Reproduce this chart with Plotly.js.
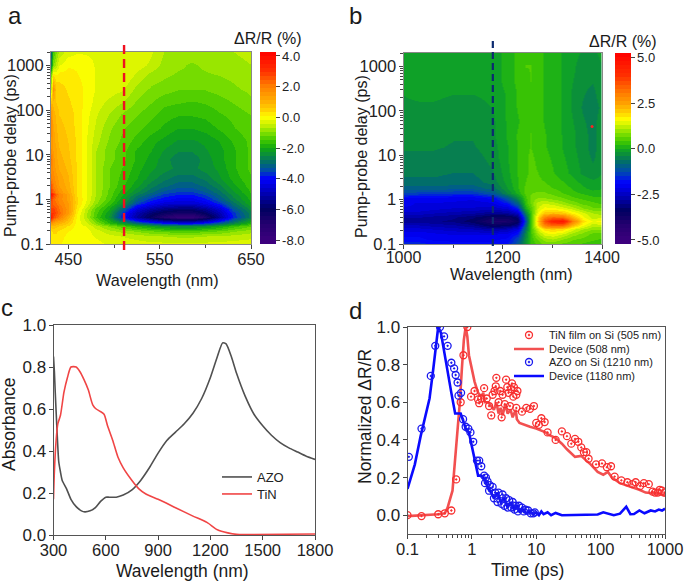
<!DOCTYPE html>
<html><head><meta charset="utf-8">
<script src="https://cdn.plot.ly/plotly-3.0.1.min.js"></script>
<style>html,body{margin:0;padding:0;background:#fff}#c{width:685px;height:581px}</style></head>
<body><div id="c"></div>
<script>
// ---------- panel a ----------
const wlA=[431,433,436,440,450,460,470,480,495,510,525,540,555,570,585,600,615,630,650];
const delayA=[0.1,0.15,0.2,0.25,0.3,0.4,0.5,0.6,0.7,0.85,1,1.3,1.5,2,3,5,8,12,20,40,80,150,300,600,1000,2000];
const zA=[
[.1,.3,.2,.1,0,0,-.05,-.1,-.2,-.25,-.3,-.35,-.35,-.35,-.35,-.35,-.35,-.3,-.3],
[.2,.3,.3,.2,0,-.05,-.1,-.2,-.35,-.45,-.55,-.65,-.7,-.75,-.75,-.7,-.65,-.6,-.5],
[.3,.4,.4,.3,.1,-.05,-.1,-.3,-.6,-.8,-1,-1.2,-1.3,-1.4,-1.4,-1.3,-1.2,-1,-.8],
[.8,.8,.7,.6,.3,-.05,-.2,-.6,-1,-1.4,-1.8,-2.1,-2.4,-2.5,-2.5,-2.3,-2,-1.6,-1.2],
[1.5,1.3,1.1,1,.6,-.05,-.4,-1,-1.7,-2.3,-3,-3.5,-3.9,-4.1,-4.1,-3.8,-3.2,-2.6,-1.8],
[3.6,2.8,2.3,2,1,0,-.7,-1.5,-2.3,-3.9,-5.2,-6.2,-7,-7.6,-7.6,-6.8,-5.3,-3.8,-2.6],
[3,3,2.6,2.3,1.4,.1,-.7,-1.4,-2.2,-3.7,-5,-5.8,-6.3,-6.6,-6.6,-6,-5,-3.7,-2.6],
[2.8,2.8,2.5,2.2,1.5,.2,-.6,-1.3,-2,-3.2,-4.5,-5.2,-5.6,-5.8,-5.8,-5.4,-4.6,-3.4,-2.4],
[2.5,2.5,2.4,2.1,1.4,.3,-.4,-1.1,-1.8,-2.8,-4,-4.6,-5,-5.2,-5.2,-4.8,-4.1,-3.1,-2.2],
[2.5,2.4,2.2,1.9,1.4,.4,-.3,-.9,-1.6,-2.4,-3.5,-4.1,-4.5,-4.6,-4.6,-4.3,-3.7,-2.9,-2],
[2.8,2.4,2,1.8,1.3,.4,-.2,-.8,-1.4,-2.2,-3.1,-3.7,-4,-4.2,-4.2,-3.9,-3.3,-2.6,-1.9],
[3.8,3,2.4,1.9,1.3,.3,-.2,-.7,-1.3,-2,-2.7,-3.2,-3.6,-3.8,-3.8,-3.5,-3,-2.4,-1.8],
[2.8,2.4,1.9,1.6,1.1,.3,-.2,-.7,-1.3,-1.9,-2.5,-3,-3.4,-3.6,-3.6,-3.3,-2.9,-2.3,-1.7],
[2.6,2,1.7,1.4,1,.3,-.2,-.7,-1.2,-1.7,-2.2,-2.7,-3,-3.2,-3.2,-3,-2.6,-2.1,-1.6],
[2,1.8,1.5,1.3,.9,.3,-.2,-.7,-1.2,-1.6,-2,-2.4,-2.7,-2.9,-2.9,-2.7,-2.3,-1.9,-1.5],
[1.8,1.6,1.3,1.1,.8,.3,-.2,-.7,-1.2,-1.5,-1.9,-2.2,-2.4,-2.6,-2.6,-2.4,-2.2,-1.8,-1.4],
[2.2,1.5,1.2,1,.7,.3,-.2,-.7,-1.1,-1.4,-1.8,-2.1,-2.4,-2.7,-2.7,-2.4,-2.1,-1.8,-1.4],
[1.7,1.4,1.2,.9,.65,.3,-.2,-.7,-1.1,-1.4,-1.8,-2,-2.3,-2.5,-2.5,-2.3,-2.1,-1.8,-1.4],
[1.5,1.3,1,.8,.6,.3,-.2,-.6,-1,-1.3,-1.6,-1.9,-2.1,-2.3,-2.3,-2.2,-2,-1.7,-1.4],
[1.9,1.2,.9,.7,.55,.25,-.15,-.5,-.9,-1.2,-1.4,-1.6,-1.8,-2,-2,-1.9,-1.7,-1.5,-1.3],
[1.6,1,.8,.6,.5,.25,-.1,-.4,-.7,-1,-1.2,-1.4,-1.6,-1.7,-1.7,-1.65,-1.5,-1.4,-1.2],
[.8,.8,.6,.5,.4,.2,0,-.3,-.5,-.7,-1,-1.2,-1.4,-1.45,-1.5,-1.45,-1.35,-1.2,-1],
[-.5,1.5,.6,.5,.3,.2,0,-.2,-.3,-.4,-.8,-1,-1.1,-1.2,-1.2,-1.2,-1.1,-1,-.9],
[-1,.3,.1,.2,.2,.1,0,-.2,-.2,-.2,-.5,-.8,-.9,-1,-1,-1,-.95,-.9,-.8],
[-2.5,-1,-.6,-.2,.05,.05,-.1,-.2,-.2,-.2,-.3,-.5,-.8,-.9,-1,-.9,-.8,-.8,-.7],
[-3,-1.5,-1,-.6,-.3,-.2,-.2,-.2,-.2,-.2,-.2,-.4,-.7,-.8,-.8,-.8,-.7,-.7,-.6]
];
const cbValsA=[-8.26,-7,-6,-5,-4,-3.5,-3,-2.5,-2,-1.5,-1,-.5,0,.5,1,2,3,4.26];
const cbColsA=['#400080','#250070','#000060','#0000b0','#0000ff','#004ab0','#006a70','#0a8a40','#10a810','#40c800','#80e000','#c8f000','#ffff00','#ffd000','#ffb000','#ff8000','#ff3000','#ff0000'];
const cbTicksA=[-8,-6,-4,-2,0,2,4];
const cbTextA=['-8.0','-6.0','-4.0','-2.0','0.0','2.0','4.0'];
// ---------- panel b ----------
const wlB=[1000,1030,1060,1100,1140,1180,1210,1230,1245,1255,1270,1285,1300,1320,1340,1360,1380,1400];
const delayB=[.1,.13,.17,.22,.27,.33,.4,.5,.65,.85,1.1,1.4,1.8,2.5,4,8,15,30,60,120,250,500,1000,2000];
const zB=[
[-1.5,-1.6,-1.8,-1.9,-1.9,-1.9,-1.7,-1.1,-.2,.3,.5,.7,.7,.6,.5,.4,.3,.3],
[-1.9,-1.9,-2,-2,-2,-2,-1.9,-1.3,-.3,.3,.7,1,1.1,.9,.7,.6,.5,.4],
[-2,-2,-2.1,-2.2,-2.2,-2.2,-2.1,-1.7,-.4,.35,1,1.4,1.5,1.3,1,.8,.6,.6],
[-2.3,-2.3,-2.4,-2.5,-2.6,-2.8,-2.6,-2.2,-.7,.4,1.3,1.9,2,1.9,1.4,1.1,.9,.9],
[-2.6,-2.6,-2.7,-2.8,-3,-3.5,-3.4,-3,-1,.4,1.8,3,3.4,3.3,2.3,1.6,1.2,1.3],
[-2.9,-2.9,-3,-3.1,-3.4,-4,-3.9,-3.5,-1.3,.4,2,3.6,4.4,4.7,3,1.9,1.5,1.6],
[-2.8,-2.8,-2.9,-3,-3.2,-3.6,-3.6,-3.2,-1,.4,1.8,3,3.3,3.2,2.3,1.6,1.2,1.3],
[-2.5,-2.5,-2.6,-2.7,-2.8,-3,-2.9,-2.5,-.5,.4,1.5,2.1,2.2,2.1,1.7,1.4,1.1,1],
[-2.2,-2.2,-2.3,-2.4,-2.4,-2.5,-2.3,-1.6,.1,.5,1.3,1.6,1.6,1.4,1.2,.9,.7,.7],
[-2.1,-2.2,-2.2,-2.2,-2.3,-2.2,-1.7,-.9,.3,.7,1.2,1.3,1.2,1,.8,.6,.5,.4],
[-2,-2,-2,-2.1,-2.1,-1.9,-1.1,-.4,.4,.7,.9,.9,.8,.7,.5,.4,.3,.3],
[-1.3,-1.4,-1.4,-1.5,-1.5,-1.1,-.4,.1,.5,.65,.7,.7,.6,.45,.3,.2,.1,.1],
[-.95,-.95,-.95,-1,-1,-.75,-.2,.2,.5,.6,.6,.55,.45,.35,.2,.05,-.05,0],
[-.7,-.7,-.7,-.75,-.75,-.55,-.1,.2,.45,.55,.5,.45,.35,.25,.1,-.05,-.15,-.1],
[-.6,-.6,-.6,-.65,-.65,-.45,-.05,.25,.4,.5,.45,.35,.25,.1,-.05,-.25,-.35,-.2],
[-.5,-.5,-.5,-.55,-.55,-.35,0,.25,.4,.5,.4,.3,.2,.05,-.1,-.3,-.45,-.3],
[-.4,-.4,-.4,-.45,-.45,-.3,0,.25,.4,.45,.35,.25,.15,0,-.15,-.35,-.5,-.3],
[-.35,-.35,-.35,-.4,-.4,-.25,.05,.25,.4,.45,.35,.25,.1,0,-.15,-.35,-.5,-.3],
[-.3,-.3,-.3,-.35,-.35,-.25,.05,.2,.35,.4,.35,.2,.1,0,-.2,-.4,-.5,-.3],
[-.25,-.25,-.25,-.3,-.3,-.2,.05,.25,.35,.35,.3,.2,.1,0,-.25,-.45,-.55,-.35],
[-.2,-.15,-.15,-.2,-.2,-.15,.05,.25,.4,.4,.3,.2,.1,0,-.25,-.4,-.5,-.25],
[-.15,-.1,-.1,-.15,-.15,-.1,.1,.3,.4,.45,.3,.2,.1,0,-.2,-.35,-.4,-.2],
[-.1,-.05,-.05,-.1,-.1,-.1,.1,.3,.45,.45,.35,.2,.1,0,-.15,-.35,-.4,-.2],
[-.1,-.1,-.1,-.1,-.1,-.1,.1,.3,.4,.4,.3,.2,.1,0,-.1,-.25,-.3,-.1]
];
const cbValsB=[-5.22,-4.2,-3.4,-2.7,-1.9,-1.3,-.8,-.4,0,.4,.85,1.6,2,2.5,3,4,5.24];
const cbColsB=['#400080','#250070','#000060','#0000b0','#0000ff','#004ab0','#006a70','#0a8a40','#10a820','#40c800','#80e000','#ffff00','#ffd000','#ffa000','#ff8000','#ff3000','#ff0000'];
const cbTicksB=[-5,-2.5,0,2.5,5];
const cbTextB=['-5.0','-2.5','0.0','2.5','5.0'];
const spotX=[1380],spotY=[44];
// ---------- panel c ----------
const azoX=[300,305,310,320,330,340,350,375,400,430,460,480,510,540,570,600,620,660,700,750,800,850,900,950,1000,1050,1100,1150,1200,1240,1270,1290,1320,1350,1400,1450,1500,1550,1600,1650,1700,1750,1800];
const azoY=[.85,.78,.68,.5,.35,.3,.26,.22,.17,.135,.115,.11,.115,.13,.16,.18,.18,.18,.19,.215,.26,.32,.39,.45,.49,.53,.58,.65,.75,.85,.915,.91,.85,.77,.66,.575,.52,.475,.44,.415,.395,.375,.36];
const tinX=[300,305,315,325,340,360,380,400,430,450,475,500,525,545,565,590,610,640,670,700,750,790,830,900,1000,1100,1180,1240,1300,1350,1400,1800];
const tinY=[.17,.3,.45,.53,.57,.68,.75,.8,.8,.78,.74,.69,.62,.6,.59,.575,.52,.45,.37,.32,.26,.22,.195,.17,.13,.09,.06,.025,.01,.003,.002,.005];
// ---------- panel d ----------
const blueLineX=[.1,.13,.16,.2,.22,.25,.28,.3,.33,.37,.42,.48,.55,.6,.67,.72,.8,.9,1,1.1,1.25,1.4,1.5,1.6,1.8,2,2.2,2.5,2.8,3.2,3.6,4,4.5,5,5.5,6,7,8,9,10,11,12,13,15,17,20,25,40,60,90,110,130,160,200,250,290,330,400,480,600,700,800,900,1000];
const blueLineY=[.14,.27,.42,.56,.62,.77,.9,1,.97,.87,.75,.65,.54,.54,.54,.51,.46,.44,.36,.3,.21,.21,.2,.19,.14,.12,.09,.12,.07,.09,.04,.07,.03,.05,.02,.035,.01,.02,.005,.015,0,.02,.005,.015,0,.012,0,.002,.003,.004,.015,.01,0,.008,.045,.005,.006,.025,.01,.025,.02,.03,.025,.035];
const blueDotX=[.105,.165,.23,.27,.32,.37,.42,.48,.53,.56,.6,.62,.68,.73,.8,.88,.95,1.05,1.2,1.3,1.4,1.55,1.65,1.75,1.9,2.1,2.3,2.6,3,3.4,3.8,4.3,4.8,5.4,6,6.8,7.5,8.2,9,9.5,1.6,1.85,2.2,2.5,2.9,3.2,3.6,4.1,4.6,5.2,6.4];
const blueDotY=[.31,.46,.74,.9,1,.95,.9,.81,.78,.745,.705,.635,.65,.51,.47,.46,.44,.39,.29,.29,.26,.21,.2,.18,.16,.15,.12,.12,.11,.09,.08,.07,.05,.05,.04,.03,.025,.01,.01,.015,.17,.13,.09,.07,.06,.05,.04,.04,.03,.02,.02];
const redLineX=[.1,.2,.3,.38,.42,.5,.55,.6,.65,.7,.75,.8,.85,.9,1,1.1,1.25,1.4,1.5,1.6,1.8,2,2.2,2.4,2.6,2.8,3,3.3,3.6,4,4.3,4.8,5,5.5,6.5,8,10,12,14,15,17,20,25,30,40,50,60,70,90,110,130,150,200,300,400,500,700,1000];
const redLineY=[-.005,0,.005,.01,.04,.13,.3,.47,.6,.78,.93,1,.95,.85,.78,.71,.65,.63,.65,.6,.6,.58,.56,.6,.54,.57,.53,.59,.54,.56,.52,.56,.51,.49,.48,.47,.46,.45,.44,.43,.42,.41,.38,.35,.31,.315,.29,.27,.23,.215,.23,.2,.17,.15,.135,.12,.115,.105];
const redDotX=[.1,.165,.3,.38,.48,.57,.67,.74,.85,.97,1.1,1.25,1.3,1.4,1.55,1.7,1.85,2,2.1,2.25,2.35,2.4,2.6,2.75,2.9,3,3.25,3.4,3.55,3.7,3.9,4.1,4.2,4.4,4.5,4.9,5.1,4.9,6,7,8,9.2,10,11,12,13.5,15,20,25,30,35,40,45,50,55,60,65,85,105,125,145,165,210,260,310,350,410,470,560,640,700,770,830,900,980];
const redDotY=[0,-.005,.005,.01,.025,.19,.6,.85,1,.63,.66,.615,.595,.62,.675,.62,.58,.53,.64,.66,.685,.73,.6,.66,.52,.64,.59,.72,.68,.65,.58,.67,.7,.63,.68,.64,.66,.57,.55,.57,.565,.58,.49,.48,.515,.495,.44,.4,.445,.42,.38,.405,.39,.36,.335,.335,.3,.27,.275,.255,.26,.205,.185,.175,.165,.175,.155,.17,.165,.125,.12,.12,.135,.13,.12];

const FONT='"Liberation Sans",Arial,sans-serif', TXT='#222';
const W=685,H=581;
const dx=(a,b)=>[a/W,b/W], dy=(t,b)=>[1-b/H,1-t/H];
const hex=c=>[1,3,5].map(i=>parseInt(c.substr(i,2),16));
// stepped colour scale: the reference colour bar is drawn in discrete bands
const scale=(v,c,n)=>{const lo=v[0],hi=v[v.length-1],out=[];
 for(let k=0;k<n;k++){const val=lo+(hi-lo)*(k+.5)/n;let i=0;while(i<v.length-2&&val>v[i+1])i++;
  const t=(val-v[i])/(v[i+1]-v[i]),a=hex(c[i]),b=hex(c[i+1]),col='rgb('+a.map((p,j)=>Math.round(p+(b[j]-p)*t)).join(',')+')';
  out.push([k/n,col],[(k+1)/n,col]);}
 return out;};
const logMinor=(lo,hi)=>{const o=[];for(let e=lo;e<hi;e++)for(let m=2;m<10;m++)o.push(m*Math.pow(10,e));return o;};
const cbar=(x,top,bot,tv,tt)=>({x:x/W,xanchor:'left',xpad:0,y:1-bot/H,yanchor:'bottom',ypad:0,len:(bot-top)/H,lenmode:'fraction',thickness:16,thicknessmode:'pixels',outlinewidth:0,ticks:'outside',ticklen:4,tickwidth:1,tickcolor:'#444',tickmode:'array',tickvals:tv,ticktext:tt,tickfont:{family:FONT,size:13,color:TXT}});
const dots=(x,y,c,name,xa,ya,lg)=>({type:'scatter',mode:'markers',x,y,xaxis:xa,yaxis:ya,name,legend:lg,marker:{symbol:'circle-open-dot',size:7,color:c,line:{width:1.3,color:c}}});
const line=(x,y,c,w,name,xa,ya,lg,sh)=>({type:'scatter',mode:'lines',x,y,xaxis:xa,yaxis:ya,name,legend:lg,line:{color:c,width:w,shape:sh||'linear',smoothing:.6}});

const traces=[
 {type:'heatmap',x:wlA,y:delayA,z:zA,xaxis:'x',yaxis:'y',zsmooth:'best',zmin:cbValsA[0],zmax:cbValsA[cbValsA.length-1],colorscale:scale(cbValsA,cbColsA,48),colorbar:cbar(260,52,244,cbTicksA,cbTextA),showlegend:false},
 {type:'heatmap',x:wlB,y:delayB,z:zB,xaxis:'x2',yaxis:'y2',zsmooth:'best',zmin:cbValsB[0],zmax:cbValsB[cbValsB.length-1],colorscale:scale(cbValsB,cbColsB,48),colorbar:cbar(615,53,244,cbTicksB,cbTextB),showlegend:false},
 {type:'scatter',mode:'markers',x:spotX,y:spotY,xaxis:'x2',yaxis:'y2',marker:{color:'#ff2020',size:3},showlegend:false},
 line(azoX,azoY,'#505050',1.6,'AZO','x3','y3','legend','spline'),
 line(tinX,tinY,'#f04545',1.6,'TiN','x3','y3','legend2','spline'),
 line(redLineX,redLineY,'#f25050',2.6,'Device (508 nm)','x4','y4','legend4'),
 line(blueLineX,blueLineY,'#0a0aff',2.6,'Device (1180 nm)','x4','y4','legend6'),
 dots(redDotX,redDotY,'#f83030','TiN film on Si (505 nm)','x4','y4','legend3'),
 dots(blueDotX,blueDotY,'#1a1aee','AZO on Si (1210 nm)','x4','y4','legend5')
];
const axis=(o,fs,st)=>Object.assign({showgrid:false,zeroline:false,showline:true,mirror:true,ticks:'outside',ticklen:4,tickwidth:1,tickfont:{family:FONT,size:fs,color:TXT},ticklabelstandoff:st,automargin:false,tickcolor:'#444'},o);
const logTicks=[.1,1,10,100,1000], logText=['0.1','1','10','100','1000'];
const yFmt=['0.0','0.2','0.4','0.6','0.8','1.0'], yTicks=[0,.2,.4,.6,.8,1];
const delayAxis=(anchor,dom)=>axis({type:'log',domain:dom,anchor,range:[-1,Math.log10(2000)],linecolor:'#888',tickmode:'array',tickvals:logTicks,ticktext:logText,minor:{tickmode:'array',tickvals:logMinor(-1,4),ticks:'outside',ticklen:3,tickcolor:'#444'}},16.5,-1);
const leg=(x,y,fs)=>({x:x/W,y:1-y/H,xanchor:'left',yanchor:'middle',bgcolor:'rgba(0,0,0,0)',borderwidth:0,itemwidth:30,font:{family:FONT,size:fs,color:TXT},itemclick:false});
const note=(x,y,text,size,angle)=>({xref:'paper',yref:'paper',x:x/W,y:1-y/H,xanchor:'center',yanchor:'middle',showarrow:false,text,textangle:angle||0,font:{family:FONT,size,color:'#1a1a1a'}});
const layout={
 width:W,height:H,margin:{l:0,r:0,t:0,b:0,autoexpand:false},paper_bgcolor:'#fff',plot_bgcolor:'#fff',showlegend:true,
 xaxis:axis({domain:dx(51,251),anchor:'y',range:[431,650],linecolor:'#888',tickmode:'array',tickvals:[450,550,650],minor:{tickmode:'array',tickvals:[500,600],ticks:'outside',ticklen:3,tickcolor:'#444'}},16.5,-4),
 yaxis:delayAxis('x',dy(52,244)),
 xaxis2:axis({domain:dx(403.5,602),anchor:'y2',range:[1000,1400],linecolor:'#888',tickmode:'array',tickvals:[1000,1200,1400],minor:{tickmode:'array',tickvals:[1100,1300],ticks:'outside',ticklen:3,tickcolor:'#444'}},16,-5),
 yaxis2:delayAxis('x2',dy(53,244)),
 xaxis3:axis({domain:dx(53.5,315),anchor:'y3',range:[300,1800],linecolor:'#555',tickmode:'array',tickvals:[300,600,900,1200,1500,1800]},16.5,-4),
 yaxis3:axis({domain:dy(325,535),anchor:'x3',range:[0,1],linecolor:'#555',tickmode:'array',tickvals:yTicks,ticktext:yFmt},17,-1),
 xaxis4:axis({type:'log',domain:dx(407.5,665),anchor:'y4',range:[-1,3],linecolor:'#555',tickmode:'array',tickvals:logTicks,ticktext:logText,minor:{tickmode:'array',tickvals:logMinor(-1,3),ticks:'outside',ticklen:3,tickcolor:'#444'}},16.5,-4),
 yaxis4:axis({domain:dy(327,534),anchor:'x4',range:[-.1,1],linecolor:'#555',tickmode:'array',tickvals:yTicks,ticktext:yFmt},17,-1),
 legend:leg(217,477,13),legend2:leg(217,494,13),
 legend3:leg(509,335,11),legend4:leg(509,349,11),legend5:leg(509,362,11),legend6:leg(509,376,11),
 shapes:[
  {type:'line',xref:'x',yref:'paper',x0:511,x1:511,y0:1-45/H,y1:1-253/H,line:{color:'#f01020',width:2.4,dash:'9px,5px'}},
  {type:'line',xref:'x2',yref:'paper',x0:1180,x1:1180,y0:1-41/H,y1:1-246/H,line:{color:'#0c2a70',width:2.2,dash:'7px,4px'}}
 ],
 annotations:[
  note(15,15,'a',24),note(355,15,'b',24),note(7,307,'c',24),note(355,310,'d',24),
  note(268,39,'ΔR/R (%)',16),note(623,41,'ΔR/R (%)',16),
  note(157,280,'Wavelength (nm)',16.2),note(511,274,'Wavelength (nm)',16.2),note(183,571,'Wavelength (nm)',17.5),note(527,570,'Time (ps)',17.5),
  note(10,156,'Pump-probe delay (ps)',16,-90),note(361,156,'Pump-probe delay (ps)',16,-90),note(9,425,'Absorbance',17.5,-90),note(365,417,'Normalized ΔR/R',17.5,-90)
 ]
};
Plotly.newPlot('c',traces,layout,{displayModeBar:false,staticPlot:true});
</script></body></html>
